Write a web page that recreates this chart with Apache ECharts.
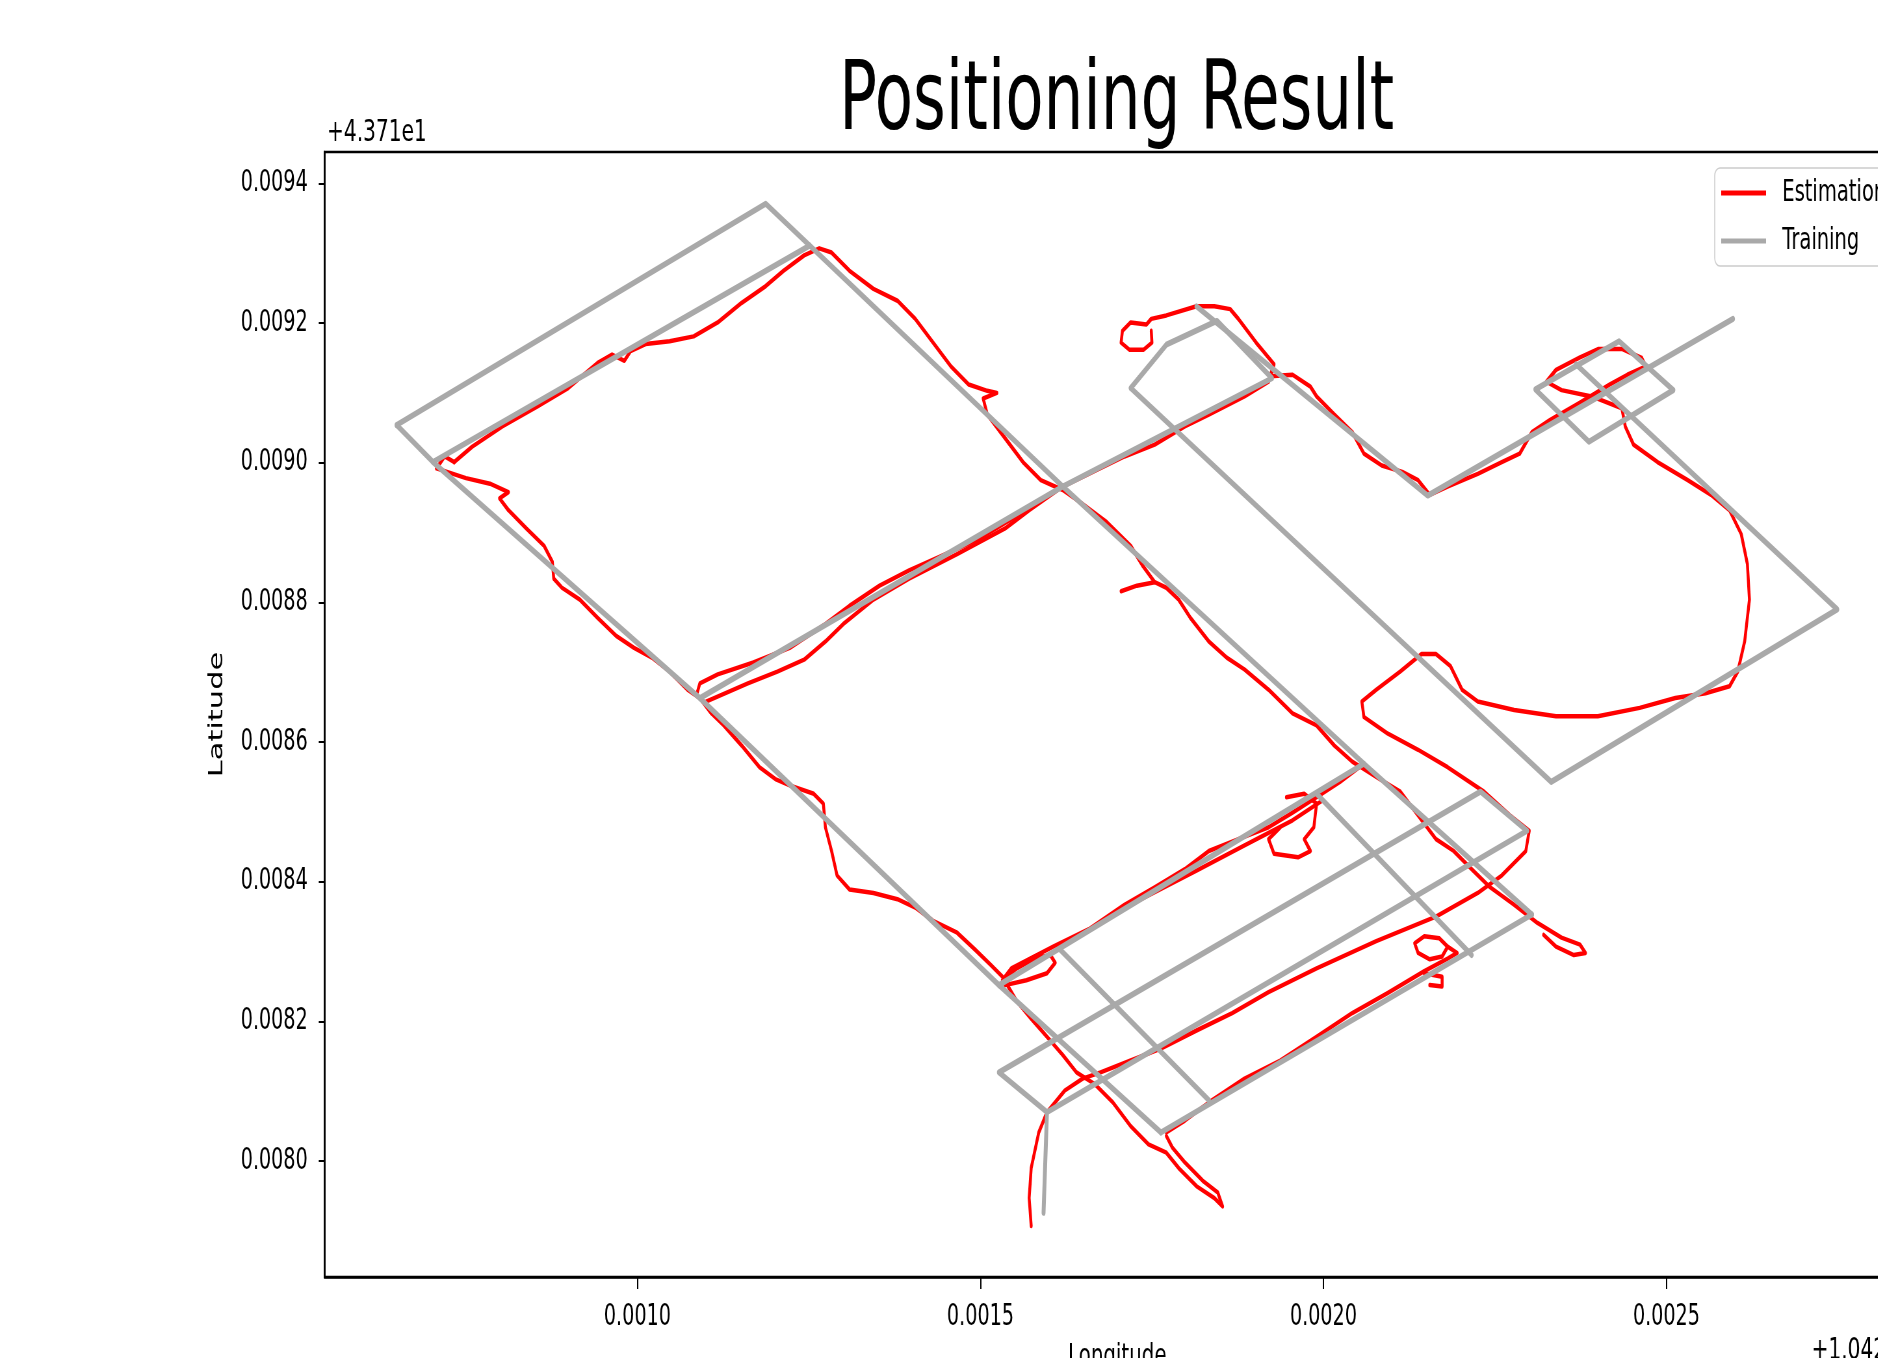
<!DOCTYPE html>
<html>
<head>
<meta charset="utf-8">
<script src="https://cdn.jsdelivr.net/npm/echarts@6/dist/echarts.min.js"></script>
<style>
html,body{margin:0;padding:0;background:#fff;overflow:hidden;}
#wrap{position:absolute;left:0;top:0;width:1878px;height:1358px;overflow:hidden;background:#fff;}
#chart{width:2889px;height:1358px;transform:scaleX(0.65);transform-origin:0 0;}
</style>
</head>
<body>
<div id="wrap"><div id="chart"></div></div>
<script>
// Values are offsets (in micro-degrees) from lon 10.42 and lat 43.71
const MICRO = 1e-6;
const lonTicks = [0.0010, 0.0015, 0.0020, 0.0025, 0.0030];
const latTicks = [0.0080, 0.0082, 0.0084, 0.0086, 0.0088, 0.0090, 0.0092, 0.0094];

// Training route (grey)
const trainOuterTop = [[649,9054],[1187,9371],[1251,9311],[1620,8966],[2059,8569],[2304,8353]];
const trainInnerTop = [[649,9054],[702,9001],[1251,9311]];
const trainLeft = [[702,9001],[1091,8663],[1527,8252],[1763,8041]];
const trainMiddle = [[1091,8663],[1620,8966],[1925,9121],[1845,9203],[1771,9169],[1719,9107],[2332,8543],[2749,8790],[2368,9141]];
const trainNorth = [[1815,9224],[2152,8953],[2597,9206]];
const trainSquare = [[2309,9105],[2431,9174],[2510,9104],[2387,9030],[2309,9105]];
const trainP = [[1527,8252],[2059,8569]];
const trainQ = [[1527,8127],[2229,8529],[2297,8473],[1597,8070],[1527,8127]];
const trainStem = [[1597,8070],[1592,7926]];
const trainS = [[1763,8041],[2304,8353]];
const trainL8 = [[1616,8303],[1833,8087]];
const trainL7 = [[1990,8526],[2216,8295]];

// Estimated positions (red)
const estA = [[733,9001],[759,9023],[803,9052],[855,9081],[899,9107],[942,9143],[963,9155],[981,9146],[990,9160],[1012,9170],[1047,9174],[1082,9181],[1117,9201],[1152,9229],[1187,9253],[1213,9275],[1243,9297],[1265,9307],[1283,9301],[1309,9275],[1344,9249],[1379,9232],[1405,9206],[1431,9172],[1457,9138],[1483,9112],[1510,9103],[1524,9100],[1504,9092],[1510,9069],[1536,9035],[1562,9001],[1588,8975],[1620,8961],[1649,8941],[1684,8915],[1719,8881],[1737,8852],[1754,8829],[1771,8821],[1789,8804],[1806,8778],[1833,8744],[1859,8721],[1885,8704],[1920,8675],[1955,8641],[1990,8624],[2016,8595],[2042,8572],[2077,8550],[2112,8529],[2138,8495],[2164,8461],[2190,8444],[2216,8418],[2243,8392],[2278,8367],[2312,8341],[2347,8320],[2374,8310],[2382,8298],[2365,8295],[2339,8307],[2321,8324]];
const estSpur = [[1705,8816],[1728,8824],[1754,8829]];
const estB = [[733,9001],[719,9009],[707,8992],[750,8978],[785,8970],[812,8958],[799,8949],[812,8932],[838,8906],[864,8881],[876,8858],[878,8834],[890,8821],[916,8804],[942,8778],[969,8752],[995,8735],[1021,8721],[1047,8701],[1073,8675],[1091,8663],[1108,8641],[1126,8624],[1152,8595],[1178,8564],[1201,8547],[1222,8538],[1257,8526],[1271,8512],[1274,8478],[1283,8444],[1291,8409],[1309,8389],[1344,8384],[1379,8375],[1405,8363],[1431,8344],[1466,8327],[1492,8303],[1515,8281],[1532,8264],[1553,8229],[1574,8204],[1597,8178],[1620,8152],[1640,8127],[1667,8110],[1693,8084],[1719,8050],[1745,8024],[1771,8012],[1789,7990],[1815,7964],[1841,7947],[1853,7935],[1846,7955],[1824,7972],[1798,7998],[1780,8019],[1771,8036]];
const estC = [[1086,8667],[1091,8684],[1117,8697],[1169,8714],[1222,8735],[1274,8769],[1309,8795],[1353,8824],[1396,8846],[1449,8869],[1501,8893],[1553,8924],[1597,8953],[1620,8966],[1658,8984],[1710,9009],[1754,9026],[1798,9052],[1833,9069],[1885,9095],[1920,9116],[1925,9133]];
const estD = [[1100,8658],[1161,8684],[1204,8701],[1243,8718],[1274,8744],[1300,8769],[1344,8804],[1396,8834],[1466,8869],[1536,8906],[1571,8932],[1620,8966]];
const estE = [[1749,9189],[1750,9172],[1738,9162],[1717,9162],[1705,9172],[1707,9189],[1719,9201],[1742,9198],[1749,9206],[1771,9211],[1815,9224],[1841,9224],[1864,9220],[1876,9206],[1902,9172],[1928,9141],[1923,9124],[1955,9126],[1981,9109],[1990,9095],[2016,9069],[2042,9044],[2059,9013],[2085,8996],[2115,8987],[2138,8975],[2155,8954],[2181,8966],[2225,8984],[2260,9001],[2286,9013],[2304,9044],[2330,9061],[2374,9086],[2417,9112],[2443,9126],[2470,9138],[2464,9150],[2435,9163],[2401,9163],[2374,9151],[2339,9133],[2325,9116],[2347,9104],[2391,9095],[2435,9078],[2440,9052],[2452,9026],[2487,9001],[2531,8975],[2565,8954],[2592,8932],[2609,8898],[2618,8855],[2621,8804],[2614,8744],[2604,8701],[2592,8680],[2557,8670],[2513,8663],[2461,8649],[2400,8637],[2339,8637],[2278,8646],[2225,8658],[2202,8675],[2185,8709],[2164,8726],[2143,8726],[2112,8701],[2077,8675],[2056,8658],[2059,8636],[2094,8612],[2138,8589],[2181,8564],[2234,8529],[2272,8495],[2300,8473],[2295,8444],[2260,8409],[2225,8384],[2164,8350],[2077,8315],[1990,8276],[1920,8242],[1867,8212],[1815,8187],[1763,8161],[1719,8144],[1675,8127],[1649,8118],[1623,8101],[1597,8070],[1585,8041],[1574,7990],[1571,7947],[1574,7907]];
const estF = [[1536,8252],[1567,8259],[1597,8269],[1609,8284],[1602,8295],[1579,8290],[1553,8276],[1532,8259],[1545,8276],[1606,8307],[1658,8332],[1710,8367],[1754,8392],[1798,8418],[1833,8444],[1876,8461],[1920,8478],[1955,8499],[1990,8521],[2024,8543],[2059,8569]];
const estF2 = [[1640,8320],[1728,8372],[1815,8416],[1885,8452],[1955,8488],[1998,8516]];
const estG = [[1771,8041],[1798,8058],[1833,8084],[1885,8118],[1937,8144],[1990,8178],[2042,8212],[2094,8241],[2147,8272],[2181,8290],[2195,8298],[2181,8307],[2169,8319],[2147,8322],[2133,8312],[2138,8298],[2155,8289],[2173,8293],[2181,8307]];
const estG2 = [[2147,8269],[2173,8264],[2173,8250],[2155,8252]];
const estH = [[1946,8521],[1972,8526],[1990,8512],[1986,8478],[1972,8461],[1981,8444],[1963,8435],[1928,8440],[1920,8461],[1937,8478]];

const estimationTracks = [estA, estSpur, estB, estC, estD, estE, estF, estF2, estG, estG2, estH];
const trainingTracks = [trainOuterTop, trainInnerTop, trainLeft, trainMiddle, trainNorth, trainSquare, trainP, trainQ, trainStem, trainS, trainL8, trainL7];

const FONT = 'DejaVu Sans';
const RED = '#ff0000';
const GREY = '#a9a9a9';

function mk(name, track, color, width) {
  return {
    name: name, type: 'line', showSymbol: false, symbol: 'none',
    data: track.map(p => [p[0] * MICRO, p[1] * MICRO]),
    color: color, lineStyle: {color: color, width: width, cap: 'round', join: 'round'},
    itemStyle: {color: color}, silent: true, animation: false, clip: true
  };
}
const series = [];
estimationTracks.forEach(t => series.push(mk('Estimation', t, RED, 4.5)));
trainingTracks.forEach(t => series.push(mk('Training', t, GREY, 6)));

const chart = echarts.init(document.getElementById('chart'), null, {renderer: 'canvas'});
chart.setOption({
  animation: false,
  backgroundColor: '#ffffff',
  title: {
    text: 'Positioning Result', left: 1291, top: 55, padding: 0,
    textStyle: {fontFamily: FONT, fontSize: 96.5, fontWeight: 'normal', color: '#000'}
  },
  legend: {
    data: ['Estimation', 'Training'], orient: 'vertical',
    left: 2638, top: 168, padding: [10, 14, 10, 10],
    icon: 'rect', itemWidth: 69, itemHeight: 5, itemGap: 18,
    borderColor: '#cccccc', borderWidth: 1.5, borderRadius: 8,
    backgroundColor: 'rgba(255,255,255,0.8)',
    textStyle: {fontFamily: FONT, fontSize: 30, color: '#000', padding: [0, 0, 0, 20]}
  },
  grid: {left: 499.4, top: 152, width: 2439, height: 1125, show: true, borderColor: '#000', borderWidth: 2.5,
    backgroundColor: 'transparent', containLabel: false, outerBoundsMode: 'none'},
  xAxis: {
    type: 'value', min: 0.000544, max: 0.002855,
    name: 'Longitude', nameLocation: 'middle', nameGap: 65,
    nameTextStyle: {fontFamily: FONT, fontSize: 30.5, color: '#000'},
    axisLine: {show: true, lineStyle: {color: '#000', width: 2.5}},
    axisTick: {show: true, inside: false, length: 12, lineStyle: {color: '#000', width: 2}, customValues: lonTicks},
    axisLabel: {show: true, margin: 25, fontFamily: FONT, fontSize: 29.5, color: '#000', customValues: lonTicks,
      formatter: v => v.toFixed(4)},
    splitLine: {show: false}
  },
  yAxis: {
    type: 'value', min: 0.007834, max: 0.009445,
    name: 'Latitude', nameLocation: 'middle', nameGap: 150,
    nameTextStyle: {fontFamily: FONT, fontSize: 30.5, color: '#000'},
    axisLine: {show: true, lineStyle: {color: '#000', width: 2.5}},
    axisTick: {show: true, inside: false, length: 9, lineStyle: {color: '#000', width: 2}, customValues: latTicks},
    axisLabel: {show: true, margin: 26, fontFamily: FONT, fontSize: 29.5, color: '#000', customValues: latTicks,
      formatter: v => v.toFixed(4)},
    splitLine: {show: false}
  },
  graphic: [
    {type: 'text', left: 503, top: 117, silent: true,
     style: {text: '+4.371e1', font: '31px "DejaVu Sans"', fill: '#000'}},
    {type: 'text', left: 2787, top: 1335, silent: true,
     style: {text: '+1.042e1', font: '31px "DejaVu Sans"', fill: '#000'}}
  ],
  series: series
});
</script>
</body>
</html>
